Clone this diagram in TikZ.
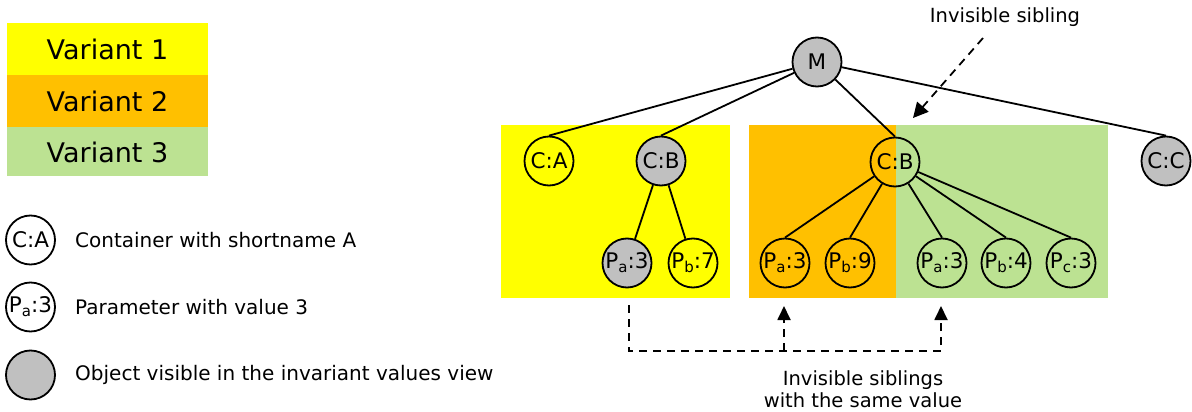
\documentclass[tikz,border=0pt]{standalone}
\usepackage{fontspec}
\setmainfont{DejaVu Sans}
\usetikzlibrary{arrows.meta}
\definecolor{varA}{HTML}{FFFF00}
\definecolor{varB}{HTML}{FFC000}
\definecolor{varC}{HTML}{BCE292}
\definecolor{objgrey}{HTML}{C0C0C0}
\newcommand{\sbs}[1]{\raisebox{-4pt}{\fontsize{15}{15}\selectfont #1}}
\tikzset{
  obj/.style={circle,draw=black,line width=1.8pt,minimum size=49pt,inner sep=0pt,
    font=\fontsize{21.5}{23}\selectfont},
  vis/.style={obj,fill=objgrey},
  legtext/.style={anchor=west,inner sep=0pt,font=\fontsize{20}{24}\selectfont},
  vartext/.style={font=\fontsize{27}{30}\selectfont},
  edge/.style={line width=1.8pt},
  dashline/.style={dashed,dash pattern=on 8pt off 6pt,line width=1.8pt},
  note/.style={font=\fontsize{19.5}{22}\selectfont,align=center,inner sep=1pt}
}
\begin{document}
\begin{tikzpicture}[x=1pt,y=-1pt]
\useasboundingbox (0,0) rectangle (1192,412);
% legend
\fill[varA] (7,23) rectangle (208,75);
\fill[varB] (7,75) rectangle (208,127);
\fill[varC] (7,127) rectangle (208,176);
\node[vartext] (v1) at (107.5,49) {Variant 1};
\node[vartext] (v2) at (107.5,101) {Variant 2};
\node[vartext] (v3) at (107.5,152) {Variant 3};
\node[obj] (l1) at (30.5,240) {C:A};
\node[obj] (l2) at (30.5,307) {P\sbs{a}:3};
\node[vis] (l3) at (30.5,375) {};
\node[legtext] (t1) at (75,240) {Container with shortname A};
\node[legtext] (t2) at (75,307) {Parameter with value 3};
\node[legtext] (t3) at (75,375) {Object visible in the invariant values view};
% variant areas
\fill[varA] (501,125) rectangle (730,298);
\fill[varB] (749,125) rectangle (896,298);
\fill[varC] (896,125) rectangle (1108,298);
% tree
\node[vis] (M) at (817,62) {M};
\node[obj] (CA) at (549,161) {C:A};
\node[vis] (CB1) at (661,161) {C:B};
\node[vis] (P1a) at (627,263) {P\sbs{a}:3};
\node[obj] (P1b) at (693,263) {P\sbs{b}:7};
\node[obj] (CB2) at (895,162) {C:B};
\node[obj] (P2a) at (785,263) {P\sbs{a}:3};
\node[obj] (P2b) at (850,263) {P\sbs{b}:9};
\node[obj] (P3a) at (942,263) {P\sbs{a}:3};
\node[obj] (P3b) at (1006,263) {P\sbs{b}:4};
\node[obj] (P3c) at (1071,263) {P\sbs{c}:3};
\node[vis] (CC) at (1166,161) {C:C};
\draw[edge] (M) -- (CA.north);
\draw[edge] (M) -- (CB1.north);
\draw[edge] (M) -- (CB2.north);
\draw[edge] (M) -- (CC.north);
\draw[edge] (CB1) -- (P1a);
\draw[edge] (CB1) -- (P1b);
\draw[edge] (CB2) -- (P2a.north);
\draw[edge] (CB2) -- (P2b.north);
\draw[edge] (CB2) -- (P3a.north);
\draw[edge] (CB2) -- (P3b.north);
\draw[edge] (CB2) -- (P3c.north);
% annotations
\node[note] (n1) at (1005,17) {Invisible sibling};
\coordinate (n1s) at (983,38);
\coordinate (n1e) at (913,118);
\draw[dashline,-{Triangle[length=15pt,width=15pt]}] (n1s) -- (n1e);
\coordinate (b0) at (629,305);
\coordinate (b1) at (629,351);
\coordinate (b2) at (941,351);
\coordinate (b3) at (941,306);
\coordinate (m1) at (784,351);
\coordinate (m2) at (784,306);
\draw[dashline,-{Triangle[length=14pt,width=13pt]}] (b0) -- (b1) -- (b2) -- (b3);
\draw[dashline,-{Triangle[length=14pt,width=13pt]}] (m1) -- (m2);
\node[note] (n2) at (863,389) {Invisible siblings\\with the same value};
\end{tikzpicture}
\end{document}
